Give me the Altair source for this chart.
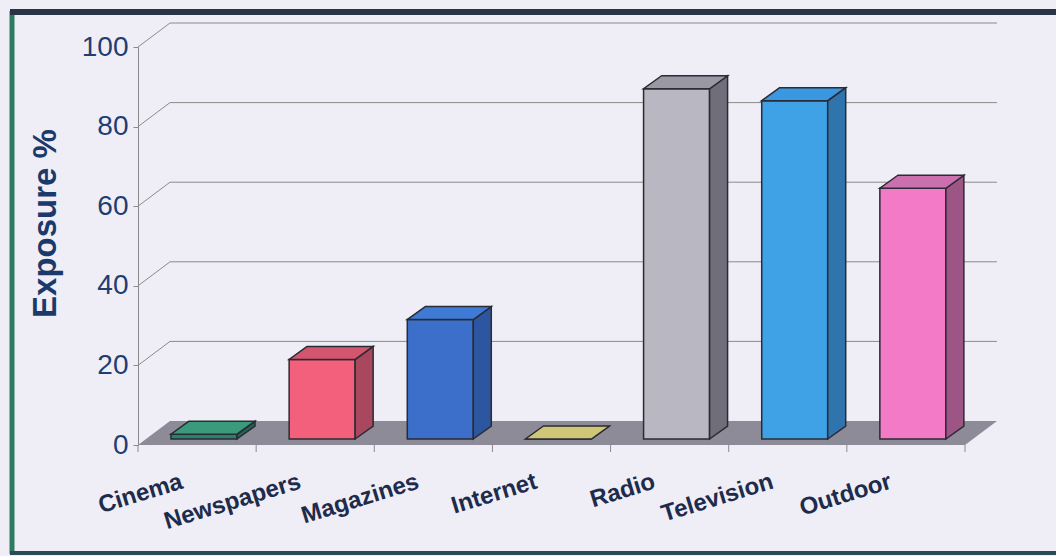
import altair as alt
import pandas as pd

# ---- data ----
categories = ["Cinema", "Newspapers", "Magazines", "Internet", "Radio", "Television", "Outdoor"]
values = [1.2, 20, 30, 0, 88, 85, 63]
y_ticks = [0, 20, 40, 60, 80, 100]
grid_values = [20, 40, 60, 80, 100]

# ---- styles ----
front_colors = ["#2b8068", "#f2607c", "#3b6fc9", "#c8c070", "#b9b8c2", "#3fa2e6", "#f27ac6"]
side_colors = ["#1f6450", "#a8475e", "#2c56a0", "#9a9450", "#6f6e7a", "#2f74ad", "#9c5585"]
top_colors = ["#3a9a7c", "#d4566e", "#3f7ad6", "#cfc678", "#9a98a4", "#3a98e2", "#cb70ae"]
EDGE = "#2b2b33"
GRID = "#8a8a8a"
BG = "#efeef7"

W, H = 827, 398
N = len(categories)
XU = W / N          # px per category unit
YU = H / 100.0      # px per percentage point

# depth geometry (pixels converted to data units)
FDX, FDY = 32 / XU, 24 / YU      # floor / wall depth
BX0, BX1 = 33 / XU, 99 / XU      # bar front face within its slot
BY0 = 6 / YU                     # bar front face base above front edge
SDX, SDY = 18 / XU, 13 / YU      # bar depth

# ---- tables built from the arrays ----
front_rows, side_rows, top_rows = [], [], []
for i, (c, v) in enumerate(zip(categories, values)):
    x0, x1 = i + BX0, i + BX1
    y0, y1 = BY0, BY0 + v
    front_rows.append(dict(cat=c, x=x0, x2=x1, y=y0, y2=y1, col=front_colors[i]))
    side_rows.append(dict(cat=c, x=x1, y=y0, y2=y1, col=side_colors[i]))
    side_rows.append(dict(cat=c, x=x1 + SDX, y=y0 + SDY, y2=y1 + SDY, col=side_colors[i]))
    top_rows.append(dict(cat=c, y=y1, x=x0, x2=x1, col=top_colors[i]))
    top_rows.append(dict(cat=c, y=y1 + SDY, x=x0 + SDX, x2=x1 + SDX, col=top_colors[i]))
front_df = pd.DataFrame(front_rows)
side_df = pd.DataFrame(side_rows)
top_df = pd.DataFrame(top_rows)

grid_rows = []
for g in grid_values:
    grid_rows += [dict(g=g, x=0, y=g), dict(g=g, x=FDX, y=g + FDY), dict(g=g, x=N + FDX, y=g + FDY)]
grid_df = pd.DataFrame(grid_rows)

floor_df = pd.DataFrame([
    dict(x=0, y=0, y2=0),
    dict(x=FDX, y=FDY, y2=0),
    dict(x=N, y=FDY, y2=0),
    dict(x=N + FDX, y=FDY, y2=FDY),
])

label_df = pd.DataFrame(dict(cat=categories, pos=[i + 0.5 for i in range(N)]))
tick_df = pd.DataFrame(dict(b=list(range(N + 1))))
axis_df = pd.DataFrame(dict(v=y_ticks))

xs = alt.Scale(domain=[0, N], nice=False, zero=False)
ys = alt.Scale(domain=[0, 100], nice=False)

yaxis = alt.Axis(
    values=y_ticks, grid=False, title="Exposure %",
    domainColor=GRID, tickColor=GRID, tickSize=5, labelPadding=5,
    labelFont="Liberation Sans", labelFontSize=28, labelColor="#1f3d73",
    titleFont="Liberation Sans", titleFontSize=33, titleFontWeight="bold",
    titleColor="#1b3a6b", titleX=-93, titleY=176, titleAngle=270,
    titleAlign="center", titleBaseline="middle",
)

def Y(field):
    return alt.Y(field, scale=ys, axis=yaxis)

# ---- frame decoration ----
one = pd.DataFrame({"k": [0]})
frame_left = alt.Chart(one).mark_rule(color="#2f7a60", strokeWidth=5).encode(
    x=alt.value(-126), y=alt.value(-36), y2=alt.value(507))
frame_top = alt.Chart(one).mark_rule(color="#2a3444", strokeWidth=6).encode(
    x=alt.value(-128), x2=alt.value(920), y=alt.value(-35))
frame_bottom = alt.Chart(one).mark_rule(color="#2b4a58", strokeWidth=4).encode(
    x=alt.value(-128), x2=alt.value(920), y=alt.value(506))

# invisible layer that carries the y axis
axis_layer = alt.Chart(axis_df).mark_point(opacity=0).encode(
    x=alt.value(0),
    y=Y("v:Q"),
)

grid = alt.Chart(grid_df).mark_line(color=GRID, strokeWidth=1).encode(
    x=alt.X("x:Q", scale=xs, axis=None),
    y=Y("y:Q"),
    detail="g:N",
)

floor = alt.Chart(floor_df).mark_area(color="#8d8b98", opacity=1).encode(
    x=alt.X("x:Q", scale=xs, axis=None),
    y=Y("y:Q"),
    y2="y2:Q",
)

ticks = alt.Chart(tick_df).mark_rule(color=GRID, strokeWidth=1).encode(
    x=alt.X("b:Q", scale=xs, axis=None),
    y=alt.value(H), y2=alt.value(H + 7),
)

front = alt.Chart(front_df).mark_rect(stroke=EDGE, strokeWidth=1.5).encode(
    x=alt.X("x:Q", scale=xs, axis=None), x2="x2:Q",
    y=Y("y:Q"), y2="y2:Q",
    fill=alt.Fill("col:N", scale=None),
)

side = alt.Chart(side_df).mark_area(stroke=EDGE, strokeWidth=1.5, opacity=1).encode(
    x=alt.X("x:Q", scale=xs, axis=None),
    y=Y("y:Q"), y2="y2:Q",
    fill=alt.Fill("col:N", scale=None),
    detail="cat:N",
)

top = alt.Chart(top_df).mark_area(orient="horizontal", stroke=EDGE, strokeWidth=1.5, opacity=1).encode(
    y=Y("y:Q"),
    x=alt.X("x:Q", scale=xs, axis=None), x2="x2:Q",
    fill=alt.Fill("col:N", scale=None),
    detail="cat:N",
)

labels = alt.Chart(label_df).mark_text(
    align="right", baseline="alphabetic", angle=343,
    font="Liberation Sans", fontSize=24, fontWeight="bold", color="#1e2b4a", xOffset=-13,
).encode(
    x=alt.X("pos:Q", scale=xs, axis=None),
    y=alt.value(H + 43),
    text="cat:N",
)

chart = alt.layer(
    frame_left, frame_top, frame_bottom, axis_layer, grid, floor, ticks, front, side, top, labels
).properties(
    width=W, height=H,
    autosize=alt.AutoSizeParams(type="none"),
    padding={"left": 138, "top": 47, "right": 91, "bottom": 111},
    background=BG,
).configure_view(stroke=None)

chart.save("out.html", embed_options={"renderer": "svg", "actions": False})
